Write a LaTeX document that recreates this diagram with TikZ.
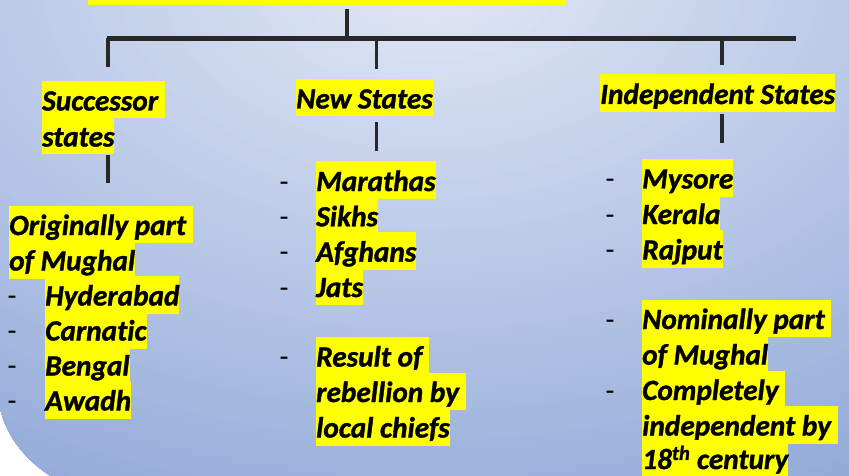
\documentclass[tikz,border=0pt]{standalone}
\usepackage{fontspec}
\setmainfont{Carlito}[Ligatures=NoCommon, BoldItalicFeatures={FakeBold=1.2}]
\definecolor{hl}{HTML}{FFFF00}
\definecolor{bginner}{HTML}{E3E9F6}
\definecolor{bgouter}{HTML}{91A9D8}
\definecolor{linec}{HTML}{282828}
\newcommand\tsp{\ \null}
\begin{document}
\begin{tikzpicture}[x=1pt,y=-1pt,
  item/.style={anchor=base west, fill=hl, inner sep=0pt, text height=29.5pt, text depth=8pt,
    font=\fontsize{29.3}{35}\selectfont\bfseries\itshape},
  bullet/.style={anchor=base west, inner sep=0pt, font=\fontsize{29.3}{35}\selectfont},
  bar/.style={draw=linec, line width=4.5pt},
  drop/.style={draw=linec, line width=3.2pt}]
\useasboundingbox (0,0) rectangle (849,476);
\begin{scope}
\clip (-1,-1) -- (850,-1) -- (850,477) -- (52,477) .. controls (22,458) and (4,432) .. (-1,403) -- cycle;
\fill[bgouter] (-1,-1) rectangle (850,477);
\foreach \i in {60,59,...,1}{
  \pgfmathtruncatemacro\p{round(100*\i/60)}
  \fill[bgouter!\p!bginner] (430,-30) ellipse [x radius={15*\i*1pt}, y radius={10*\i*1pt}];
}
\end{scope}
% title bar (cut off at the top)
\node[fill=hl, minimum width=478pt, minimum height=10pt, inner sep=0pt, anchor=south west] (title) at (88,5) {};
% connectors of the tree
\coordinate (trunkTop) at (347,9);
\coordinate (hub) at (347,38.5);
\coordinate (barL) at (106.5,38.5);
\coordinate (barR) at (796,38.5);
\coordinate (brL) at (108,38.5);
\coordinate (brM) at (376.5,38.5);
\coordinate (brR) at (722,38.5);
\coordinate (endL) at (108,67);
\coordinate (endM) at (376.5,69);
\coordinate (endR) at (722,65);
\draw[drop] (trunkTop) -- (hub);
\draw[bar] (barL) -- (barR);
\draw[drop] (brL) -- (endL);
\draw[drop] (brM) -- (endM);
\draw[drop] (brR) -- (endR);
% headings
\node[item] (succ1) at (42,110.5) {Successor\tsp};
\node[item] (succ2) at (42,146.5) {states};
\node[item] (newst) at (296,108.5) {New States};
\node[item] (indep) at (600,104) {Independent States};
% short lines under headings
\coordinate (subL) at (108,183);
\coordinate (subMtop) at (376.5,122);
\coordinate (subMbot) at (376.5,151);
\coordinate (subRtop) at (722,114);
\coordinate (subRbot) at (722,143);
\draw[drop] (succ2.south -| subL) -- (subL);
\draw[drop] (subMtop) -- (subMbot);
\draw[drop] (subRtop) -- (subRbot);
% left column
\node[item] (l1) at (9,235) {Originally part\tsp};
\node[item] (l2) at (9,270.5) {of Mughal};
\node[item] (l3) at (45,305.5) {Hyderabad};
\node[item] (l4) at (45,340.5) {Carnatic};
\node[item] (l5) at (45,375.5) {Bengal};
\node[item] (l6) at (45,410.5) {Awadh};
\node[bullet] (lb3) at (7.5,305.5) {-};
\node[bullet] (lb4) at (7.5,340.5) {-};
\node[bullet] (lb5) at (7.5,375.5) {-};
\node[bullet] (lb6) at (7.5,410.5) {-};
% middle column
\node[item] (m1) at (316,191) {Marathas};
\node[item] (m2) at (316,226.3) {Sikhs};
\node[item] (m3) at (316,261.6) {Afghans};
\node[item] (m4) at (316,297) {Jats};
\node[item] (m5) at (316,366.5) {Result of\tsp};
\node[item] (m6) at (316,402) {rebellion by\tsp};
\node[item] (m7) at (316,437.5) {local chiefs};
\node[bullet] (mb1) at (279.5,191) {-};
\node[bullet] (mb2) at (279.5,226.3) {-};
\node[bullet] (mb3) at (279.5,261.6) {-};
\node[bullet] (mb4) at (279.5,297) {-};
\node[bullet] (mb5) at (279.5,366.5) {-};
% right column
\node[item] (r1) at (642,188.5) {Mysore};
\node[item] (r2) at (642,224) {Kerala};
\node[item] (r3) at (642,259.5) {Rajput};
\node[item] (r4) at (642,329) {Nominally part\tsp};
\node[item] (r5) at (642,364.5) {of Mughal};
\node[item] (r6) at (642,400) {Completely\tsp};
\node[item] (r7) at (642,435.5) {independent by\tsp};
\node[item] (r8) at (642,469) {18\textsuperscript{th} century};
\node[bullet] (rb1) at (605.5,188.5) {-};
\node[bullet] (rb2) at (605.5,224) {-};
\node[bullet] (rb3) at (605.5,259.5) {-};
\node[bullet] (rb4) at (605.5,329) {-};
\node[bullet] (rb6) at (605.5,400) {-};
\end{tikzpicture}
\end{document}
